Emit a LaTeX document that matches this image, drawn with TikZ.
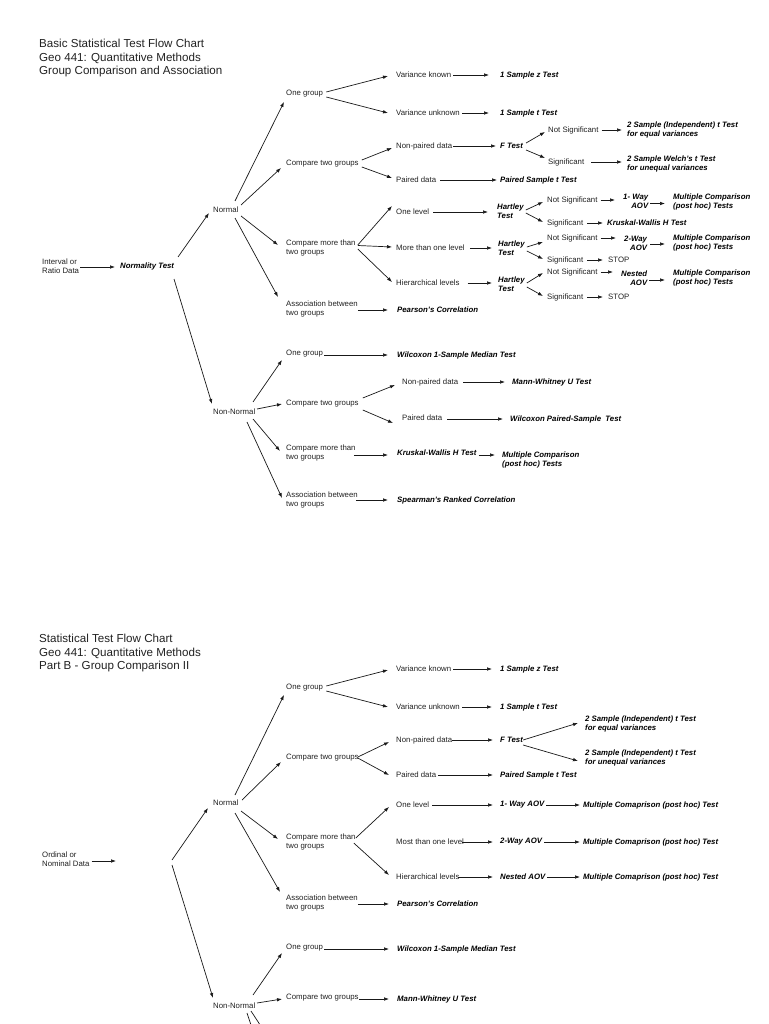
\documentclass[tikz,border=0pt]{standalone}
\usepackage{fontspec}
\setmainfont{Liberation Sans}
\usetikzlibrary{calc,arrows.meta}
\definecolor{txt}{HTML}{222222}
\newcommand\hconn[5]{\draw[arr] ($(#1.east)+(#3,#5)$) -- ($(#1.east -| #2.west)+(-#4,#5)$);}
\begin{document}
\begin{tikzpicture}[x=1pt,y=-1pt,
  lbl/.style={inner sep=0pt, anchor=west, align=left, text=txt, font=\fontsize{7.8}{9}\selectfont},
  res/.style={inner sep=0pt, anchor=west, align=left, text=black, font=\fontsize{7.8}{9}\selectfont\bfseries\itshape},
  ttl/.style={inner sep=0pt, anchor=west, align=left, text=txt, font=\fontsize{11.6}{13.5}\selectfont},
  arr/.style={draw=black!90, line width=0.7pt, -{Latex[length=5pt,width=3.6pt]}},
  ln/.style={draw=black!90, line width=0.7pt}]
\useasboundingbox (0,0) rectangle (768,1024);
\fill[white] (0,0) rectangle (768,1024);
\clip (0,0) rectangle (768,1024);

% ================= PART A =================
\node[ttl] (tA) at (39,58.5) {Basic Statistical Test Flow Chart\\Geo 441: Quantitative Methods\\Group Comparison and Association};
\node[lbl] (iA) at (42,266) {Interval or\\Ratio Data};
\node[res] (ntA) at (120,266) {Normality Test};
\node[lbl] (nA) at (213,210) {Normal};
\node[lbl] (nnA) at (213,412) {Non-Normal};
\node[lbl] (ogA) at (286,94) {One group};
\node[lbl] (ctA) at (286,164) {Compare two groups};
\node[lbl] (cmA) at (286,247.5) {Compare more than\\two groups};
\node[lbl] (asA) at (286,309) {Association between\\two groups};
\node[lbl] (vkA) at (396,75) {Variance known};
\node[res] (zA) at (500,75) {1 Sample z Test};
\node[lbl] (vuA) at (396,113) {Variance unknown};
\node[res] (t1A) at (500,113) {1 Sample t Test};
\node[lbl] (npA) at (396,146) {Non-paired data};
\node[res] (fA) at (500,146) {F Test};
\node[lbl] (nsA) at (548,130) {Not Significant};
\node[lbl] (sgA) at (548,162) {Significant};
\node[res] (eqA) at (627,129.5) {2 Sample (Independent) t Test\\for equal variances};
\node[res] (weA) at (627,164) {2 Sample Welch's t Test\\for unequal variances};
\node[lbl] (pdA) at (396,180) {Paired data};
\node[res] (pstA) at (500,180) {Paired Sample t Test};
\node[lbl] (olA) at (396,212) {One level};
\node[lbl] (mlA) at (396,248) {More than one level};
\node[lbl] (hlA) at (396,283) {Hierarchical levels};
\node[res] (h1A) at (497,211) {Hartley\\Test};
\node[res] (h2A) at (498,248.5) {Hartley\\Test};
\node[res] (h3A) at (498,284.5) {Hartley\\Test};
\node[lbl] (ns1A) at (547,200) {Not Significant};
\node[lbl] (sg1A) at (547,223) {Significant};
\node[res,align=right] (w1A) at (623,201.5) {1- Way\\AOV};
\node[res] (m1A) at (673,202) {Multiple Comparison\\(post hoc) Tests};
\node[res] (kw1A) at (607,223) {Kruskal-Wallis H Test};
\node[lbl] (ns2A) at (547,238) {Not Significant};
\node[lbl] (sg2A) at (547,260) {Significant};
\node[res,align=right] (w2A) at (624,243) {2-Way\\AOV};
\node[res] (m2A) at (673,242.5) {Multiple Comparison\\(post hoc) Tests};
\node[lbl] (st2A) at (608,260) {STOP};
\node[lbl] (ns3A) at (547,272) {Not Significant};
\node[lbl] (sg3A) at (547,297) {Significant};
\node[res,align=right] (w3A) at (621,278) {Nested\\AOV};
\node[res] (m3A) at (673,277.5) {Multiple Comparison\\(post hoc) Tests};
\node[lbl] (st3A) at (608,297) {STOP};
\node[res] (pcA) at (397,310) {Pearson's Correlation};
\node[lbl] (og2A) at (286,354) {One group};
\node[res] (wxA) at (397,355) {Wilcoxon 1-Sample Median Test};
\node[lbl] (ct2A) at (286,404) {Compare two groups};
\node[lbl] (np2A) at (402,382) {Non-paired data};
\node[res] (mwA) at (512,382) {Mann-Whitney U Test};
\node[lbl] (pd2A) at (402,418) {Paired data};
\node[res] (wpA) at (510,419) {Wilcoxon Paired-Sample\ \ Test};
\node[lbl] (cm2A) at (286,453) {Compare more than\\two groups};
\node[res] (kwA) at (397,453) {Kruskal-Wallis H Test};
\node[res] (mcA) at (502,459.5) {Multiple Comparison\\(post hoc) Tests};
\node[lbl] (as2A) at (286,500) {Association between\\two groups};
\node[res] (spA) at (397,500) {Spearman's Ranked Correlation};

\draw[arr] ($(iA.east)+(1,1)$) -- ($(iA.east -| ntA.west)+(-5,1)$);
\draw[arr] ($(ntA.west)+(58,-9)$) -- ($(nA.west)+(-4,3)$);
\draw[arr] ($(ntA.west)+(54,13)$) -- ($(nnA.west)+(-1,-8)$);
\draw[arr] ($(nA.west)+(22,-9)$) -- ($(ogA.west)+(-2,8)$);
\draw[arr] ($(nA.west)+(28,-5)$) -- ($(ctA.west)+(-5,4)$);
\draw[arr] ($(nA.west)+(28,6)$) -- ($(cmA.west)+(-8,-2.5)$);
\draw[arr] ($(nA.west)+(22,8)$) -- ($(asA.west)+(-8,-12)$);
\draw[arr] ($(ogA.east)+(3,-2)$) -- ($(vkA.west)+(-8,1)$);
\draw[arr] ($(ogA.east)+(3,3)$) -- ($(vuA.west)+(-8,0)$);
\hconn{vkA}{zA}{2}{11}{0}
\hconn{vuA}{t1A}{2}{11}{0}
\draw[arr] ($(ctA.east)+(3,-4)$) -- ($(npA.west)+(-4,2)$);
\draw[arr] ($(ctA.east)+(3,3)$) -- ($(pdA.west)+(-4,-2)$);
\hconn{npA}{fA}{1}{4}{0}
\hconn{pdA}{pstA}{4}{3}{0}
\draw[arr] ($(fA.east)+(3,-3)$) -- ($(nsA.west)+(-3,2)$);
\draw[arr] ($(fA.east)+(3,4)$) -- ($(sgA.west)+(-3,-4)$);
\hconn{nsA}{eqA}{3}{5}{0}
\hconn{sgA}{weA}{7}{5}{0}
\draw[arr] ($(cmA.east)+(2,-2.5)$) -- ($(olA.west)+(-4,-6)$);
\draw[arr] ($(cmA.east)+(2,-2)$) -- ($(mlA.west)+(-4,-1)$);
\draw[arr] ($(cmA.east)+(2,1.5)$) -- ($(hlA.west)+(-4,-1)$);
\hconn{olA}{h1A}{4}{9}{0}
\hconn{mlA}{h2A}{5}{6}{0}
\hconn{hlA}{h3A}{8}{6}{0}
\draw[arr] ($(h1A.east)+(2,-1)$) -- ($(ns1A.west)+(-4,2)$);
\draw[arr] ($(h1A.east)+(2,2)$) -- ($(sg1A.west)+(-4,-1)$);
\draw[arr] ($(h2A.east)+(2,-1.5)$) -- ($(ns2A.west)+(-4,4)$);
\draw[arr] ($(h2A.east)+(2,2.5)$) -- ($(sg2A.west)+(-4,-1)$);
\draw[arr] ($(h3A.east)+(2,-1.5)$) -- ($(ns3A.west)+(-4,1)$);
\draw[arr] ($(h3A.east)+(2,2.5)$) -- ($(sg3A.west)+(-4,-1)$);
\hconn{ns1A}{w1A}{3}{8}{0}
\hconn{w1A}{m1A}{2}{8}{2}
\hconn{sg1A}{kw1A}{4}{4}{0}
\hconn{ns2A}{w2A}{3}{8}{0}
\hconn{w2A}{m2A}{3}{8}{1}
\hconn{sg2A}{st2A}{4}{5}{0}
\hconn{ns3A}{w3A}{3}{8}{0}
\hconn{w3A}{m3A}{2}{8}{2}
\hconn{sg3A}{st3A}{4}{5}{0}
\hconn{asA}{pcA}{0}{9}{1}
\draw[arr] ($(nnA.west)+(40,-10)$) -- ($(og2A.west)+(-4,6)$);
\draw[arr] ($(nnA.west)+(44,-3)$) -- ($(ct2A.west)+(-4,0)$);
\draw[arr] ($(nnA.west)+(40,7)$) -- ($(cm2A.west)+(-6,-2)$);
\draw[arr] ($(nnA.west)+(34,10)$) -- ($(as2A.west)+(-4,-2)$);
\hconn{og2A}{wxA}{1}{9}{1}
\draw[arr] ($(ct2A.east)+(4,-6)$) -- ($(np2A.west)+(-7,3)$);
\draw[arr] ($(ct2A.east)+(4,6)$) -- ($(pd2A.west)+(-9,5)$);
\hconn{np2A}{mwA}{5}{7}{0}
\hconn{pd2A}{wpA}{5}{7}{1}
\hconn{cm2A}{kwA}{-2}{9}{2}
\hconn{kwA}{mcA}{2}{7}{2}
\hconn{as2A}{spA}{-2}{9}{0}

% ================= PART B =================
\node[ttl] (tB) at (39,653) {Statistical Test Flow Chart\\Geo 441: Quantitative Methods\\Part B - Group Comparison II};
\node[lbl] (odB) at (42,859.5) {Ordinal or\\Nominal Data};
\coordinate (gB) at (116,861);
\coordinate (jB) at (172,862);
\node[lbl] (nB) at (213,803) {Normal};
\node[lbl] (nnB) at (213,1006) {Non-Normal};
\node[lbl] (ogB) at (286,688) {One group};
\node[lbl] (ctB) at (286,758) {Compare two groups};
\node[lbl] (cmB) at (286,841.5) {Compare more than\\two groups};
\node[lbl] (asB) at (286,903) {Association between\\two groups};
\node[lbl] (vkB) at (396,669) {Variance known};
\node[res] (zB) at (500,669) {1 Sample z Test};
\node[lbl] (vuB) at (396,707) {Variance unknown};
\node[res] (t1B) at (500,707) {1 Sample t Test};
\node[lbl] (npB) at (396,740) {Non-paired data};
\node[res] (fB) at (500,740) {F Test};
\node[res] (eqB) at (585,723.5) {2 Sample (Independent) t Test\\for equal variances};
\node[res] (unB) at (585,758) {2 Sample (Independent) t Test\\for unequal variances};
\node[lbl] (pdB) at (396,775) {Paired data};
\node[res] (pstB) at (500,775) {Paired Sample t Test};
\node[lbl] (olB) at (396,805) {One level};
\node[res] (w1B) at (500,805) {1- Way AOV};
\node[res] (m1B) at (583,805) {Multiple Comaprison (post hoc) Test};
\node[lbl] (mlB) at (396,842) {Most than one level};
\node[res] (w2B) at (500,842) {2-Way AOV};
\node[res] (m2B) at (583,842) {Multiple Comaprison (post hoc) Test};
\node[lbl] (hlB) at (396,877) {Hierarchical levels};
\node[res] (w3B) at (500,877) {Nested AOV};
\node[res] (m3B) at (583,877) {Multiple Comaprison (post hoc) Test};
\node[res] (pcB) at (397,904) {Pearson's Correlation};
\node[lbl] (og2B) at (286,948) {One group};
\node[res] (wxB) at (397,949) {Wilcoxon 1-Sample Median Test};
\node[lbl] (ct2B) at (286,998) {Compare two groups};
\node[res] (mwB) at (397,999) {Mann-Whitney U Test};
\coordinate (cB1) at (254,1034);
\coordinate (cB2) at (266,1034);

\draw[arr] ($(odB.east)+(2,1.5)$) -- (gB);
\draw[arr] ($(jB)+(0,-2)$) -- ($(nB.west)+(-5,5)$);
\draw[arr] ($(jB)+(0,3)$) -- ($(nnB.west)+(0,-8)$);
\draw[arr] ($(nB.west)+(22,-8)$) -- ($(ogB.west)+(-2,7)$);
\draw[arr] ($(nB.west)+(29,-3)$) -- ($(ctB.west)+(-5,4)$);
\draw[arr] ($(nB.west)+(28,8)$) -- ($(cmB.west)+(-8,-2.5)$);
\draw[arr] ($(nB.west)+(22,10)$) -- ($(asB.west)+(-6,-11)$);
\draw[arr] ($(ogB.east)+(3,-2)$) -- ($(vkB.west)+(-8,1)$);
\draw[arr] ($(ogB.east)+(3,3)$) -- ($(vuB.west)+(-8,0)$);
\hconn{vkB}{zB}{2}{8}{0}
\hconn{vuB}{t1B}{2}{8}{0}
\draw[arr] ($(ctB.east)+(-1,-1)$) -- ($(npB.west)+(-7,2)$);
\draw[arr] ($(ctB.east)+(-1,0)$) -- ($(pdB.west)+(-7,0)$);
\hconn{npB}{fB}{0}{7}{0}
\hconn{pdB}{pstB}{2}{7}{0}
\draw[arr] ($(fB.east)+(0,0)$) -- ($(eqB.west)+(-7,-0.5)$);
\draw[arr] ($(fB.east)+(0,5)$) -- ($(unB.west)+(-7,3)$);
\draw[arr] ($(cmB.east)+(0,-3.5)$) -- ($(olB.west)+(-7,2)$);
\draw[arr] ($(cmB.east)+(-2,1.5)$) -- ($(hlB.west)+(-7,-2)$);
\hconn{olB}{w1B}{3}{7}{0}
\hconn{w1B}{m1B}{2}{3}{0}
\hconn{mlB}{w2B}{-2}{7}{0}
\hconn{w2B}{m2B}{2}{3}{0}
\hconn{hlB}{w3B}{-2}{7}{0}
\hconn{w3B}{m3B}{2}{3}{0}
\hconn{asB}{pcB}{0}{8}{1}
\draw[arr] ($(nnB.west)+(40,-11)$) -- ($(og2B.west)+(-4,5)$);
\draw[arr] ($(nnB.west)+(44,-3)$) -- ($(ct2B.west)+(-4,1)$);
\hconn{og2B}{wxB}{1}{8}{1}
\hconn{ct2B}{mwB}{0}{8}{1}
\draw[ln] ($(nnB.west)+(34,7)$) -- (cB1);
\draw[ln] ($(nnB.west)+(38,5)$) -- (cB2);
\end{tikzpicture}
\end{document}
